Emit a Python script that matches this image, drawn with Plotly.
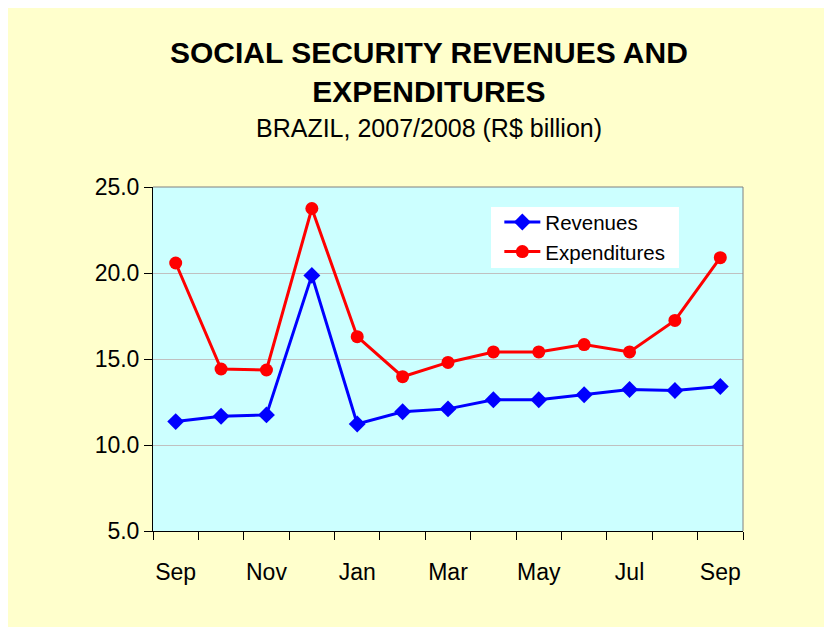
import plotly.graph_objects as go

months = ["Sep", "Oct", "Nov", "Dec", "Jan", "Feb", "Mar", "Apr", "May", "Jun", "Jul", "Aug", "Sep"]
revenues = [11.36, 11.67, 11.75, 19.86, 11.22, 11.93, 12.10, 12.63, 12.63, 12.92, 13.23, 13.17, 13.40]
expenditures = [20.58, 14.42, 14.36, 23.75, 16.30, 13.97, 14.80, 15.41, 15.41, 15.84, 15.41, 17.24, 20.89]
y_ticks = [5, 10, 15, 20, 25]

title_text = "SOCIAL SECURITY REVENUES AND<br>EXPENDITURES"
subtitle_text = "BRAZIL, 2007/2008 (R$ billion)"

idx = list(range(len(months)))

fig = go.Figure()
fig.add_trace(go.Scatter(
    x=idx, y=revenues, name="Revenues", mode="lines+markers",
    line=dict(color="#0000FF", width=3),
    marker=dict(symbol="diamond", size=13, color="#0000FF"),
))
fig.add_trace(go.Scatter(
    x=idx, y=expenditures, name="Expenditures", mode="lines+markers",
    line=dict(color="#FF0000", width=3),
    marker=dict(symbol="circle", size=13, color="#FF0000"),
))

font_family = "Arial, Liberation Sans, sans-serif"

fig.update_layout(
    width=832, height=627,
    margin=dict(l=145, r=97, t=179, b=104),
    paper_bgcolor="#FFFFCC",
    plot_bgcolor="#CCFFFF",
    font=dict(family=font_family, color="black"),
    showlegend=True,
    legend=dict(
        x=0.587, y=0.956, xanchor="left", yanchor="top",
        bgcolor="rgba(0,0,0,0)", borderwidth=0,
        font=dict(size=20.5, family=font_family),
        tracegroupgap=0, itemwidth=36,
    ),
    xaxis=dict(
        range=[-0.5, len(months) - 0.5],
        tickmode="array",
        tickvals=idx[::2],
        ticktext=months[::2],
        ticks="",
        ticklabelstandoff=20,
        tickfont=dict(size=23),
        showgrid=False,
        zeroline=False,
        showline=True, linecolor="black", linewidth=1,
        minor=dict(
            tickmode="array",
            tickvals=[i - 0.5 for i in range(len(months) + 1)],
            ticks="outside", ticklen=8, tickcolor="black", tickwidth=1,
            showgrid=False,
        ),
    ),
    yaxis=dict(
        range=[5, 25],
        tickmode="array",
        tickvals=y_ticks,
        tickformat=".1f",
        ticks="outside", ticklen=8, tickcolor="black",
        tickfont=dict(size=23),
        showgrid=True, gridcolor="#C0C0C0", gridwidth=1,
        zeroline=False,
        showline=True, linecolor="black", linewidth=1,
    ),
    shapes=[
        dict(type="rect", xref="paper", yref="paper",
             x0=0.5729, x1=0.8915, y0=0.7645, y1=0.9419,
             fillcolor="white", line=dict(width=0), layer="above"),
        dict(type="line", xref="paper", yref="paper", x0=0, x1=1, y0=1, y1=1,
             line=dict(color="#808080", width=1)),
        dict(type="line", xref="paper", yref="paper", x0=1, x1=1, y0=0, y1=1,
             line=dict(color="#808080", width=1)),
    ],
    annotations=[
        dict(text="<b>" + title_text + "</b>", xref="paper", yref="paper",
             x=0.468, y=(531 - 72) / 344, xanchor="center", yanchor="middle",
             showarrow=False, font=dict(size=30, family=font_family), align="center"),
        dict(text=subtitle_text, xref="paper", yref="paper",
             x=0.468, y=(531 - 128) / 344, xanchor="center", yanchor="middle",
             showarrow=False, font=dict(size=25, family=font_family)),
    ],
)

fig.write_html("out.html")
